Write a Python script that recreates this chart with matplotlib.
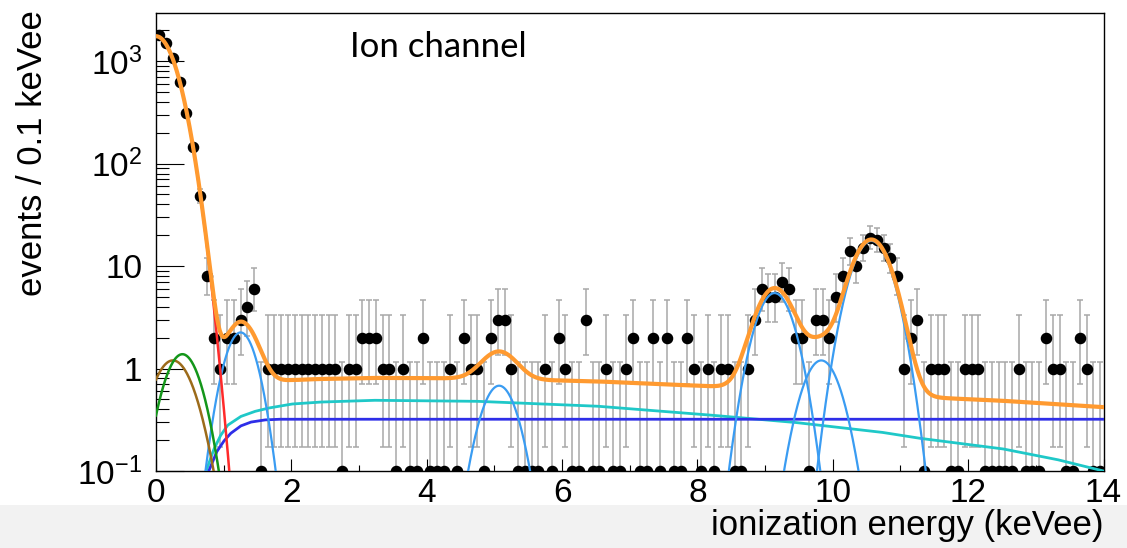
import math
import numpy as np
import matplotlib
matplotlib.use('Agg')
import matplotlib.pyplot as plt
from matplotlib.patches import Rectangle
from matplotlib.ticker import FixedLocator, FixedFormatter, MultipleLocator, NullFormatter

plt.rcParams['font.family'] = ['Liberation Sans', 'DejaVu Sans']

# events per 0.1 keVee bin, 0 - 14 keVee
bin_width = 0.1
counts = [1800, 1500, 1080, 620, 310, 146, 48, 8, 2, 1,
          2, 2, 3, 4, 6, 0, 1, 1, 1, 1,
          1, 1, 1, 1, 1, 1, 1, 0, 1, 1,
          2, 2, 2, 1, 1, 0, 1, 0, 0, 2,
          0, 0, 0, 1, 0, 2, 1, 1, 0, 2,
          3, 3, 1, 0, 0, 0, 0, 1, 0, 2,
          1, 0, 0, 3, 0, 0, 1, 0, 0, 1,
          2, 0, 0, 2, 0, 2, 0, 0, 2, 1,
          0, 1, 0, 1, 1, 0, 0, 1, 3, 6,
          5, 5, 7, 6, 2, 2, 0, 3, 3, 2,
          5, 8, 14, 10, 15, 19, 18, 15, 12, 8,
          1, 2, 3, 0, 1, 1, 1, 0, 0, 1,
          1, 1, 0, 0, 0, 0, 0, 1, 0, 0,
          0, 2, 1, 1, 0, 0, 2, 1, 0, 0]

# fit components (amplitude per bin, mean and sigma in keVee)
noise_amp, noise_mean, noise_sigma = 1750.0, 0.0, 0.245
brown_amp, brown_mean, brown_sigma = 1.2, 0.25, 0.27
green_amp, green_mean, green_sigma = 1.38, 0.39, 0.235
line_amp = [2.25, 0.68, 5.45, 1.2, 17.6]
line_mean = [1.25, 5.07, 9.14, 9.83, 10.57]
line_sigma = [0.208, 0.234, 0.239, 0.247, 0.25]

# continuum templates
compton_x = [0.68, 0.74, 0.85, 0.95, 1.06, 1.25, 1.45, 1.65, 2.0, 2.4, 3.2,
             4.7, 5.4, 6.5, 8.0, 9.4, 10.7, 11.25, 12.5, 13.3, 14.0]
compton_y = [0.03, 0.1, 0.16, 0.22, 0.28, 0.34, 0.38, 0.41, 0.45, 0.47, 0.49,
             0.48, 0.46, 0.43, 0.36, 0.30, 0.24, 0.21, 0.165, 0.13, 0.10]
flat_x = [0.7, 0.78, 0.9, 1.0, 1.1, 1.25, 1.4, 1.6, 1.8, 14.0]
flat_y = [0.03, 0.1, 0.155, 0.195, 0.232, 0.275, 0.30, 0.315, 0.32, 0.32]

ytick_vals = [0.1, 1, 10, 100, 1000]
ytick_labels = [r'$\mathdefault{10^{-1}}$', '1', '10',
                r'$\mathdefault{10^{2}}$', r'$\mathdefault{10^{3}}$']
ymin, ymax = 0.1, 2950


def gaus(x, a, m, s):
    return a * np.exp(-0.5 * ((x - m) / s) ** 2)


def template(x, xp, yp):
    return np.exp(np.interp(x, xp, np.log(yp), left=-np.inf))


def pois_cdf(n, mu, lf):
    k = np.arange(n + 1)
    return np.exp(-mu + k * math.log(mu) - lf[:n + 1]).sum()


def poisson_interval(n, cl=0.682689492):
    alpha = 1 - cl
    if n == 0:
        return 0.0, -math.log(alpha)
    lf = np.array([math.lgamma(j + 1) for j in range(n + 1)])
    lo, hi = 1e-9, float(n)
    for _ in range(60):
        mid = 0.5 * (lo + hi)
        if pois_cdf(n - 1, mid, lf) > 1 - alpha / 2:
            lo = mid
        else:
            hi = mid
    low = 0.5 * (lo + hi)
    lo, hi = float(n), n + 10 * math.sqrt(n) + 10
    for _ in range(60):
        mid = 0.5 * (lo + hi)
        if pois_cdf(n, mid, lf) > alpha / 2:
            lo = mid
        else:
            hi = mid
    return low, 0.5 * (lo + hi)


counts = np.array(counts)
energy = (np.arange(len(counts)) + 0.5) * bin_width
limits = np.array([poisson_interval(int(n)) for n in counts])
shown = np.where(counts > 0, counts, ymin).astype(float)
err_lo = shown - np.maximum(limits[:, 0], ymin)
err_hi = limits[:, 1] - shown

xf = np.linspace(0, 14, 2801)
noise = gaus(xf, noise_amp, noise_mean, noise_sigma)
brown = gaus(xf, brown_amp, brown_mean, brown_sigma)
green = gaus(xf, green_amp, green_mean, green_sigma)
lines = [gaus(xf, a, m, s) for a, m, s in zip(line_amp, line_mean, line_sigma)]
compton = template(xf, compton_x, compton_y)
flat = template(xf, flat_x, flat_y)
total = noise + brown + green + sum(lines) + compton + flat


def clean(y):
    return np.where(y > 1e-4, y, np.nan)


fig = plt.figure(figsize=(11.27, 5.48), dpi=100)
# pale strip along the bottom of the slide, kept behind everything
fig.add_artist(Rectangle((0, 0), 1, 43 / 548, transform=fig.transFigure,
                         facecolor='#f2f2f2', edgecolor='none', zorder=-10))
ax = fig.add_axes([156 / 1127, 1 - 471 / 548, 947.5 / 1127, 458 / 548])
ax.patch.set_alpha(0)

ax.errorbar(energy, shown, yerr=[err_lo, err_hi], fmt='none', ecolor='#a8a8a8',
            elinewidth=1.1, capsize=2.5, capthick=1.1, zorder=2)
ax.plot(energy, shown, 'o', color='black', ms=7.3, zorder=3)

ax.plot(xf, clean(compton), color='#1fc8c8', lw=2.0, zorder=4)
ax.plot(xf, clean(flat), color='#2e2ee8', lw=2.0, zorder=4)
for y in lines:
    ax.plot(xf, clean(y), color='#3a9cf2', lw=1.6, zorder=4)
ax.plot(xf, clean(brown), color='#9c6b1a', lw=1.8, zorder=4)
ax.plot(xf, clean(green), color='#14961a', lw=1.8, zorder=4)
ax.plot(xf, clean(noise), color='#ff2a2a', lw=1.8, zorder=4)
ax.plot(xf, clean(total), color='#ff9a30', lw=3.0, zorder=5)

ax.set_yscale('log')
ax.set_xlim(0, 14)
ax.set_ylim(ymin, ymax)
ax.xaxis.set_major_locator(MultipleLocator(2))
ax.xaxis.set_minor_locator(MultipleLocator(1))
ax.yaxis.set_major_locator(FixedLocator(ytick_vals))
ax.yaxis.set_major_formatter(FixedFormatter(ytick_labels))
minor_vals = [m * 10.0 ** e for e in range(-1, 4) for m in range(2, 10)]
ax.yaxis.set_minor_locator(FixedLocator(minor_vals))
ax.yaxis.set_minor_formatter(NullFormatter())

ax.tick_params(axis='x', which='major', direction='in', length=8.6, width=0.8,
               labelsize=24, pad=5, top=False)
ax.tick_params(axis='x', which='minor', direction='in', length=4.3, width=0.8, top=False)
ax.tick_params(axis='y', which='major', direction='in', length=20, width=0.8,
               labelsize=24, pad=10, right=False)
ax.tick_params(axis='y', which='minor', direction='in', length=9.5, width=0.8, right=False)
for sp in ax.spines.values():
    sp.set_linewidth(1.0)

ax.set_xlabel('ionization energy (keVee)', fontsize=25, loc='right')
ax.xaxis.set_label_coords(1.0, -0.083)
ax.set_ylabel('events / 0.1 keVee', fontsize=25, loc='top')
ax.yaxis.set_label_coords(-0.113, 1.007)

fig.text(350 / 1127, 1 - 57 / 548, 'Ion channel', fontsize=25, family='Lato',
         va='baseline', ha='left')

fig.savefig('out.png', dpi=100)
